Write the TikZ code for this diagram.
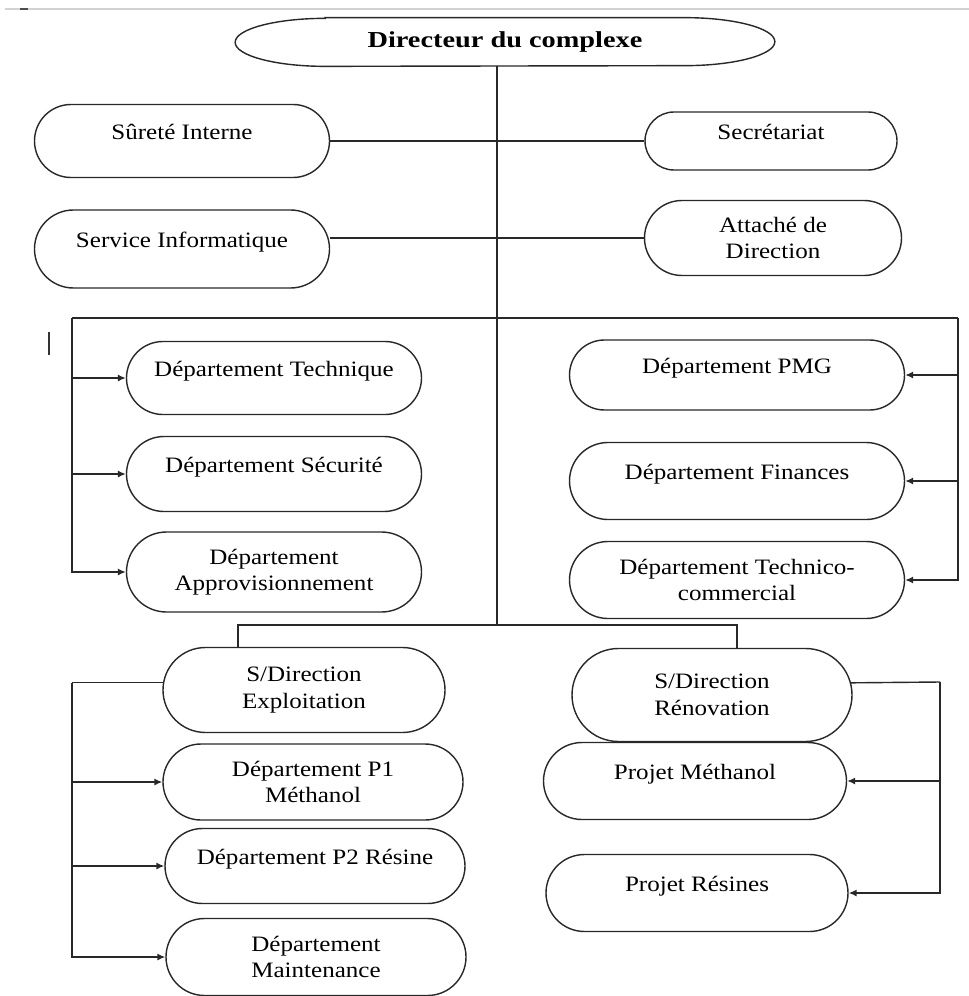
\documentclass[tikz,border=0pt]{standalone}
\usepackage{fontspec}
\setmainfont{Liberation Serif}[FakeStretch=1.14]
\newfontfamily\dirfont{Liberation Serif}[FakeStretch=1.24]
\usepackage{tikz}
\usetikzlibrary{shapes.misc, arrows.meta, calc}
\definecolor{orgline}{RGB}{40, 40, 40}

\begin{document}
\begin{tikzpicture}[
  unit/.style={draw=orgline, line width=0.8pt, rounded rectangle, inner xsep=-2mm, inner ysep=1pt, align=center, font=\fontsize{12.5}{15}\selectfont},
  upper/.style={text height=0.35cm, text depth=0.42cm},
  link/.style={draw=orgline, line width=0.8pt},
  feed/.style={link, -{Latex[length=4.5pt, width=4pt]}}
]
  \useasboundingbox (0,0) rectangle (19.38,-19.92);
  \draw[gray!35, line width=0.6pt] (0.1,-0.18) -- (19.38,-0.18);
  \draw[black!70, line width=0.8pt] (0.40,-0.18) -- (0.56,-0.18);
  \draw[black!80, line width=0.8pt] (0.98,-6.64) -- (0.98,-7.10);

  \node[minimum width=10.78cm, minimum height=0.96cm, inner sep=0pt, font=\dirfont\bfseries\fontsize{13}{15}\selectfont] (dir) at (10.10,-0.84) {Directeur du complexe};
  \draw[link] ([xshift=1.8cm]dir.north west) -- ([xshift=-1.8cm]dir.north east)
    arc[start angle=90, end angle=-90, x radius=1.8cm, y radius=0.48cm]
    -- ([xshift=1.8cm]dir.south west)
    arc[start angle=270, end angle=90, x radius=1.8cm, y radius=0.48cm] -- cycle;

  \node[unit, upper, minimum width=5.5cm, minimum height=1.46cm] (surete) at (3.64,-2.82) {Sûreté Interne};
  \node[unit, upper, minimum width=4.64cm, minimum height=1.16cm] (secr) at (15.42,-2.82) {Secrétariat};
  \node[unit, upper, minimum width=5.5cm, minimum height=1.56cm] (servinfo) at (3.64,-4.98) {Service Informatique};
  \node[unit, minimum width=4.74cm, minimum height=1.5cm] (attache) at (15.46,-4.76) {Attaché de\\Direction};

  \node[unit, upper, minimum width=5.5cm, minimum height=1.46cm] (dtech) at (5.48,-7.56) {Département Technique};
  \node[unit, upper, minimum width=5.5cm, minimum height=1.5cm] (dsec) at (5.48,-9.48) {Département Sécurité};
  \node[unit, minimum width=5.5cm, minimum height=1.6cm] (dappro) at (5.48,-11.44) {Département\\Approvisionnement};

  \node[unit, upper, minimum width=6.3cm, minimum height=1.4cm] (dpmg) at (14.74,-7.50) {Département PMG};
  \node[unit, upper, minimum width=6.3cm, minimum height=1.54cm] (dfin) at (14.74,-9.62) {Département Finances};
  \node[unit, minimum width=6.3cm, minimum height=1.54cm] (dtcom) at (14.74,-11.60) {Département Technico-\\commercial};

  \node[unit, minimum width=5.24cm, minimum height=1.7cm] (sdexp) at (6.08,-13.80) {S/Direction\\Exploitation};
  \node[unit, minimum width=5.2cm, minimum height=1.86cm] (sdren) at (14.24,-13.90) {S/Direction\\Rénovation};

  \node[unit, minimum width=5.6cm, minimum height=1.52cm] (dp1) at (6.26,-15.64) {Département P1\\Méthanol};
  \node[unit, upper, minimum width=5.6cm, minimum height=1.5cm] (dp2) at (6.30,-17.32) {Département P2 Résine};
  \node[unit, minimum width=5.6cm, minimum height=1.54cm] (dmaint) at (6.32,-19.14) {Département\\Maintenance};

  \node[unit, upper, minimum width=5.66cm, minimum height=1.54cm] (pmeth) at (13.90,-15.62) {Projet Méthanol};
  \node[unit, upper, minimum width=5.64cm, minimum height=1.54cm] (pres) at (13.94,-17.86) {Projet Résines};

  \coordinate (trunk) at (9.94,-12.50);
  \coordinate (lb) at (1.44,-6.36);
  \coordinate (rb) at (19.16,-6.36);
  \coordinate (bl) at (4.76,-12.50);
  \coordinate (br) at (14.74,-12.50);
  \coordinate (expb) at (sdexp.177 -| lb);
  \coordinate (renb) at (18.80,-13.64);

  \draw[link] (trunk |- dir.south) -- (trunk);
  \draw[link] (surete.east) -- (secr.west);
  \draw[link] (attache.west) -- (attache.west -| servinfo.east);
  \draw[link] (lb) -- (rb);
  \foreach \n in {dtech, dsec, dappro} \draw[feed] (lb) |- (\n.west);
  \foreach \n in {dpmg, dfin, dtcom} \draw[feed] (rb) |- (\n.east);
  \draw[link] (bl |- sdexp.north) -- (bl) -- (br) -- (br |- sdren.north);
  \draw[link] (sdexp.177) -- (expb);
  \foreach \n in {dp1, dp2, dmaint} \draw[feed] (expb) |- (\n.west);
  \draw[link] (sdren.5) -- (renb);
  \foreach \n in {pmeth, pres} \draw[feed] (renb) |- (\n.east);
\end{tikzpicture}
\end{document}
